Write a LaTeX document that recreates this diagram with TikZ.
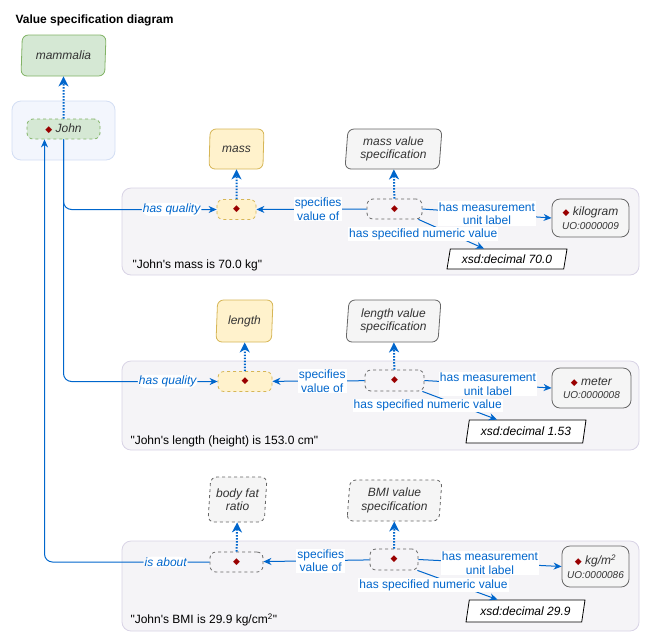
\documentclass[tikz,border=0pt]{standalone}
\usepackage{fontspec}
\setmainfont{Liberation Sans}
\newfontfamily\symfont{DejaVu Sans}
\usetikzlibrary{arrows.meta,positioning,calc,shapes.geometric}
\definecolor{ink}{HTML}{333333}
\definecolor{rel}{HTML}{0066CC}
\definecolor{indiv}{HTML}{990000}
\definecolor{panelfill}{HTML}{F5F4F7}
\definecolor{panelline}{HTML}{D8D3E5}
\definecolor{johnfill}{HTML}{F3F6FD}
\definecolor{johnline}{HTML}{D3DEF4}
\definecolor{greenfill}{HTML}{D5E8D4}
\definecolor{greenline}{HTML}{82B366}
\definecolor{yellowfill}{HTML}{FFF2CC}
\definecolor{yellowline}{HTML}{D6B656}
\definecolor{greyfill}{HTML}{F5F5F5}
\definecolor{greyline}{HTML}{666666}
\newcommand{\dmd}{{\symfont\color{indiv}\fontsize{9}{9}\selectfont ◆}}
\newcommand{\uo}[1]{{\fontsize{10}{12}\selectfont\itshape #1}}
\newcommand{\qt}{\textquotedbl}
\tikzset{
  every node/.style={font=\fontsize{12}{13.5}\selectfont,text=ink},
  panel/.style={draw=panelline,fill=panelfill,rounded corners=9pt,line width=0.8pt},
  johnpanel/.style={panel,draw=johnline,fill=johnfill},
  classbox/.style={trapezium,trapezium left angle=84,trapezium right angle=96,trapezium stretches body,rounded corners=6pt,draw=greyline,fill=greyfill,line width=0.8pt,align=center,inner sep=2pt,font=\fontsize{12}{13.5}\selectfont\itshape},
  greenclass/.style={classbox,draw=greenline,fill=greenfill},
  yellowclass/.style={classbox,draw=yellowline,fill=yellowfill},
  dashclass/.style={classbox,dashed},
  indivbox/.style={draw=greyline,dashed,rounded corners=6pt,minimum height=20pt,inner sep=0pt,line width=0.8pt},
  greenindiv/.style={indivbox,draw=greenline,fill=greenfill},
  yellowindiv/.style={indivbox,draw=yellowline,fill=yellowfill},
  unitbox/.style={draw=greyline,fill=greyfill,rounded corners=8pt,line width=0.8pt,align=center,inner sep=2pt},
  valuebox/.style={trapezium,trapezium left angle=78,trapezium right angle=102,trapezium stretches body,draw=black,fill=white,line width=0.8pt,font=\fontsize{12}{13.5}\selectfont\itshape,text=black},
  relarr/.style={-{Stealth[length=8pt,width=7pt,inset=2.5pt]},draw=rel,line width=1pt},
  isa/.style={-{Stealth[length=10pt,width=10pt,inset=3pt]},draw=rel,line width=2pt,dash pattern=on 1.5pt off 1.5pt},
  edgelbl/.style={fill=white,text=rel,inner sep=1pt,align=center},
  italbl/.style={edgelbl,font=\fontsize{12}{13.5}\selectfont\itshape},
  captiontext/.style={anchor=west,text=black},
}

\begin{document}
\begin{tikzpicture}[x=1pt,y=-1pt]
\useasboundingbox (0,0) rectangle (650,641);

\node[font=\fontsize{12}{13.5}\selectfont\bfseries,text=black,anchor=west] (title) at (12,20.5) {Value specification diagram};

% panels
\node[johnpanel,minimum width=103pt,minimum height=59pt] (johnp) at (63.5,130.5) {};
\node[panel,minimum width=517pt,minimum height=87pt] (massp) at (380.5,231.5) {};
\node[panel,minimum width=517pt,minimum height=89pt] (lenp) at (380.5,405.5) {};
\node[panel,minimum width=517pt,minimum height=90pt] (bmip) at (380.5,586) {};
\node[captiontext] (masscap) at (129,265.5) {\qt John\textquotesingle s mass is 70.0 kg\qt};
\node[captiontext] (lencap) at (127,441) {\qt John\textquotesingle s length (height) is 153.0 cm\qt};
\node[captiontext] (bmicap) at (127,620) {\qt John\textquotesingle s BMI is 29.9 kg/cm\textsuperscript{2}\qt};

% John
\node[greenclass,minimum width=85pt,minimum height=41pt] (mammalia) at (63.5,55.5) {mammalia};
\node[greenindiv,minimum width=73pt] (john) at (63.5,129) {\dmd\ \textit{John}};
\draw[isa] (john) -- (mammalia);

% mass
\node[yellowclass,minimum width=55pt,minimum height=40pt] (mass) at (236.5,149) {mass};
\node[classbox,minimum width=97pt,minimum height=40pt] (massvs) at (393.5,149) {mass value\\specification};
\node[yellowindiv,minimum width=39pt] (massq) at (236.5,209.5) {\dmd};
\node[indivbox,minimum width=55pt] (massv) at (394.5,209) {\dmd};
\node[unitbox,minimum width=77pt,minimum height=38pt] (kilogram) at (590.5,218) {\dmd\ \textit{kilogram}\\\uo{UO:0000009}};
\node[valuebox,minimum width=120pt,minimum height=20pt] (massval) at (507,259) {xsd:decimal 70.0};
\draw[isa] (massq) -- (mass);
\draw[isa] (massv) -- (massvs);
\draw[relarr,rounded corners=8pt] (john.south) |- node[italbl,pos=0.853] {has quality} (massq.west);
\draw[relarr] (massv) -- node[edgelbl,pos=0.44] {specifies\\value of} (massq);
\draw[relarr] ([xshift=-4pt]massv.south east) -- node[edgelbl,xshift=-28pt] {has specified numeric value} ([xshift=-23pt]massval.north);
\draw[relarr] (massv.east) -- node[edgelbl] {has measurement\\unit label} (kilogram.west);

% length
\node[yellowclass,minimum width=57pt,minimum height=42pt] (length) at (244.5,321) {length};
\node[classbox,minimum width=95pt,minimum height=42pt] (lenvs) at (393.5,321) {length value\\specification};
\node[yellowindiv,minimum width=54pt] (lenq) at (245,381.5) {\dmd};
\node[indivbox,minimum width=59pt,minimum height=21pt] (lenv) at (394.5,380.5) {\dmd};
\node[unitbox,minimum width=79pt,minimum height=40pt] (meter) at (591.5,388) {\dmd\ \textit{meter}\\\uo{UO:0000008}};
\node[valuebox,minimum width=120pt,minimum height=23pt] (lenval) at (526,431.5) {xsd:decimal 1.53};
\draw[isa] (lenq) -- (length);
\draw[isa] (lenv) -- (lenvs);
\draw[relarr,rounded corners=8pt] (john.south) |- node[italbl,pos=0.838] {has quality} (lenq.west);
\draw[relarr] (lenv) -- node[edgelbl,pos=0.46] {specifies\\value of} (lenq);
\draw[relarr] ([xshift=-2pt]lenv.south east) -- node[edgelbl,xshift=-32pt] {has specified numeric value} ([xshift=-29pt]lenval.north);
\draw[relarr] (lenv.east) -- node[edgelbl] {has measurement\\unit label} (meter.west);

% BMI
\node[dashclass,minimum width=59pt,minimum height=45pt] (bodyfat) at (237.5,499.5) {body fat\\ratio};
\node[dashclass,minimum width=95pt,minimum height=41pt] (bmivs) at (394.5,500.5) {BMI value\\specification};
\node[indivbox,minimum width=53pt] (bmiq) at (236.5,562) {\dmd};
\node[indivbox,minimum width=48pt,minimum height=21pt] (bmiv) at (394,559.5) {\dmd};
\node[unitbox,minimum width=67pt,minimum height=41pt] (kgm2) at (595.5,566.5) {\dmd\ \textit{kg/m\textsuperscript{2}}\\\uo{UO:0000086}};
\node[valuebox,minimum width=119pt,minimum height=22pt] (bmival) at (525.5,611) {xsd:decimal 29.9};
\draw[isa] (bmiq) -- (bodyfat);
\draw[isa] (bmiv) -- (bmivs);
\draw[relarr,rounded corners=8pt] (bmiq.west) -| node[italbl,pos=0.133] {is about} ([xshift=-19pt]john.south);
\draw[relarr] (bmiv) -- node[edgelbl,pos=0.46] {specifies\\value of} (bmiq);
\draw[relarr] ([xshift=-1pt]bmiv.south east) -- node[edgelbl,xshift=-24pt] {has specified numeric value} ([xshift=-28pt]bmival.north);
\draw[relarr] (bmiv.east) -- node[edgelbl] {has measurement\\unit label} (kgm2.west);

\end{tikzpicture}
\end{document}
